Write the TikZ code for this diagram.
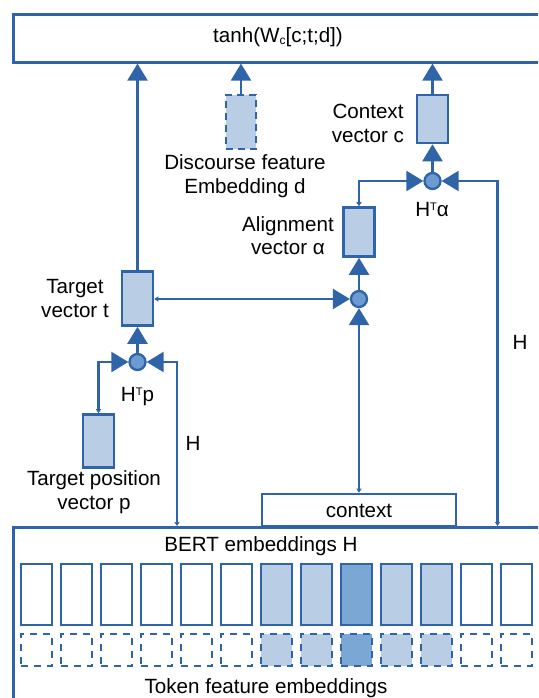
\documentclass[tikz,border=0pt]{standalone}
\usepackage{fontspec}
\setmainfont{Liberation Sans}
\usetikzlibrary{arrows.meta,calc}
\definecolor{bl}{HTML}{2F64A8}
\definecolor{lightf}{HTML}{B9CDE5}
\definecolor{darkf}{HTML}{7BA7D4}
\definecolor{circf}{HTML}{6C9BD2}
\newcommand{\tinysup}[1]{\raisebox{6.5pt}{\fontsize{11}{11}\selectfont #1}}
\newcommand{\tinysub}[1]{\raisebox{-2pt}{\fontsize{12}{12}\selectfont #1}}
\begin{document}
\begin{tikzpicture}[x=1pt,y=-1pt,
  conn/.style={draw=bl,line width=2.3pt},
  bigtip/.style={-{Triangle[length=17pt,width=20pt]}},
  bothtip/.style={{Triangle[length=4pt,width=5pt]}-{Triangle[length=17pt,width=20pt]}},
  vecbox/.style={draw=bl,line width=2.6pt,fill=lightf,inner sep=0pt},
  plainbox/.style={draw=bl,line width=2.6pt,fill=white,inner sep=0pt},
  dot/.style={circle,draw=bl,line width=2.3pt,fill=circf,minimum size=16pt,inner sep=0pt},
  lbl/.style={font=\fontsize{20.6}{23.5}\selectfont,align=center,inner sep=0pt,text=black},
  cell/.style={draw=bl,line width=2.6pt,inner sep=0pt,minimum width=31pt,minimum height=61pt},
  dcell/.style={draw=bl,line width=2.3pt,dash pattern=on 7pt off 6pt,inner sep=0pt,minimum width=31pt,minimum height=32pt}
]
\useasboundingbox (0,0) rectangle (538,698);
\clip (0,0) rectangle (538,698);
\fill[white] (0,0) rectangle (538,698);

% top box
\node[plainbox,anchor=north west,minimum width=540pt,minimum height=48pt] (top) at (12,13) {};
\node[lbl] (toplbl) at (278,37) {tanh(W\tinysub{c}[c;t;d])};

% bottom box
\node[plainbox,anchor=north west,minimum width=545pt,minimum height=190pt] (bert) at (12,526) {};
\node[lbl] (bertlbl) at (261,546) {BERT embeddings H};
\node[lbl] (toklbl) at (266,688) {Token feature embeddings};

% cells
\foreach \i in {0,...,12}{
  \ifnum\i=8 \def\cf{darkf}\else
    \ifnum\i>5 \ifnum\i<11 \def\cf{lightf}\else\def\cf{white}\fi
    \else \def\cf{white}\fi
  \fi
  \node[cell,fill=\cf] (h\i) at (36.5+40*\i,594.5) {};
  \node[dcell,fill=\cf] (f\i) at (36.5+40*\i,650) {};
}

% context box
\node[plainbox,minimum width=194pt,minimum height=32pt] (ctx) at (359,510) {};
\node[lbl] (ctxlbl) at (359,511) {context};

% vectors
\node[vecbox,minimum width=31pt,minimum height=54pt] (t) at (137.5,298.5) {};
\node[vecbox,minimum width=31pt,minimum height=53pt] (p) at (98.5,441) {};
\node[vecbox,minimum width=31pt,minimum height=49pt] (a) at (359,232) {};
\node[vecbox,minimum width=31pt,minimum height=48pt] (c) at (432.5,119) {};
\node[vecbox,dashed,dash pattern=on 7pt off 5pt,minimum width=30pt,minimum height=54pt] (d) at (241,122) {};

% dots
\node[dot] (c1) at (137.5,362) {};
\node[dot] (c2) at (359,299) {};
\node[dot] (c3) at (432.5,181) {};

% labels
\node[lbl] (tl) at (75,298.5) {Target\\vector t};
\node[lbl] (pl) at (94,492) {Target position\\vector p};
\node[lbl] (al) at (288,235.5) {Alignment\\vector α};
\node[lbl] (cl) at (368,123.5) {Context\\vector c};
\node[lbl] (dl) at (245,176) {Discourse feature\\Embedding d};
\node[lbl] (htp) at (137.5,397) {H\tinysup{T}p};
\node[lbl] (hta) at (432,210) {H\tinysup{T}α};
\node[lbl] (hl1) at (193,443) {H};
\node[lbl] (hl2) at (520,342) {H};

% connectors to top
\draw[conn,bigtip] (t.north) -- (t.north |- top.south);
\draw[conn,bigtip] (d.north) -- (d.north |- top.south);
\draw[conn,bigtip] (c.north) -- (c.north |- top.south);

% context vector
\draw[conn,bigtip] (c3.north) -- (c.south);
\coordinate (aup) at (a.north |- c3);
\draw[conn,bothtip] (a.north) -- (aup) -- (c3.west);
\coordinate (hbot2) at (497.5,526);
\coordinate (hup2) at (497.5,181);
\draw[conn,bothtip] (hbot2) -- (hup2 |- c3) -- (c3.east);

% alignment
\draw[conn,bigtip] (c2.north) -- (a.south);
\draw[conn,bothtip] (t.east |- c2) -- (c2.west);
\draw[conn,bothtip] (ctx.north) -- (c2.south);

% target
\draw[conn,bigtip] (c1.north) -- (t.south);
\coordinate (pup) at (p.north |- c1);
\draw[conn,bothtip] (p.north) -- (pup) -- (c1.west);
\coordinate (hbot1) at (177,526);
\draw[conn,bothtip] (hbot1) -- (hbot1 |- c1) -- (c1.east);
\end{tikzpicture}
\end{document}
